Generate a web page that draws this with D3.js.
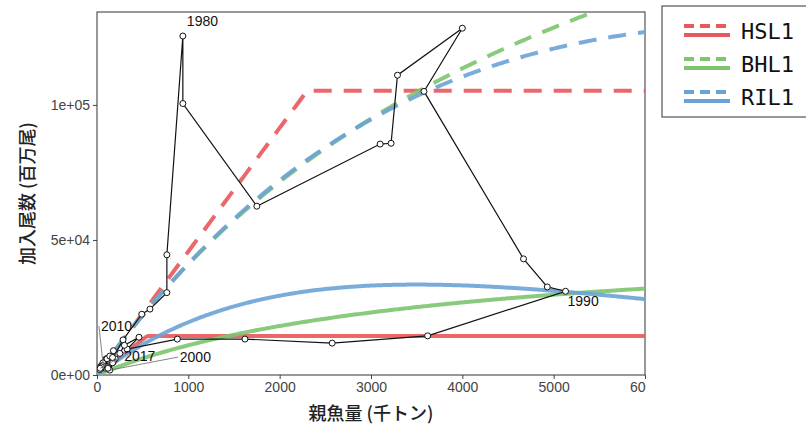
<!DOCTYPE html>
<html><head><meta charset="utf-8">
<script src="https://cdn.jsdelivr.net/npm/d3@7"></script>
<style>body{margin:0;background:#fff}</style>
</head><body>
<div id="chart"></div>
<script>
// observed stock-recruitment pairs (spawning biomass kt, recruits million)
var years = [1974,1975,1976,1977,1978,1979,1980,1981,1982,1983,1984,1985,1986,1987,1988,1989,1990,
             1991,1992,1993,1994,1995,1996,1997,1998,1999,2000,2001,2002,2003,2004,2005,2006,2007,2008,2009,2010,2011,2012,2013,2014,2015,2016,2017];
var ssb = [120,285,490,580,765,765,940,940,1750,3100,3220,3290,4000,3580,4670,4930,5130,
           3620,2575,1620,880,330,460,300,250,200,140,180,90,60,120,70,170,180,100,40,65,110,140,170,60,30,50,35];
var rec = [3000,13000,22500,24400,30500,44500,125500,100500,62500,85500,85800,111000,128400,105000,43000,32600,31000,
           14500,11800,13300,13300,9600,14000,11000,8000,6000,1800,5000,2500,3000,2500,4000,4500,9000,6000,3200,4500,6000,7000,6500,3500,2000,3000,2500];
var labelYears = [1980,1990,2000,2010,2017];

// fitted models
var models = ["HSL1","BHL1","RIL1"];
var colors = ["#e8585c","#7cc46e","#6ba3d6"];
var hslPast = {brk:2300, top:105200}, hslRecent = {brk:550, top:14450};
var bhPast = {a:48.3, b:1.755e-4}, bhRecent = {a:13.97, b:2.7e-4};
var riPast = {a:47.0, b:1.33e-4}, riRecent = {a:26.0, b:1/3500};

var W = 806, H = 428;
var margin = {top: 12, right: 161, bottom: 53, left: 97};
var width = W - margin.left - margin.right, height = H - margin.top - margin.bottom;

var svg = d3.select("#chart").append("svg").attr("width", W).attr("height", H)
    .style("font-family", "Liberation Sans, Arial, sans-serif");
svg.append("clipPath").attr("id","cl").append("rect").attr("width", 646).attr("height", H);
var root = svg.append("g").attr("clip-path","url(#cl)");
var g = root.append("g").attr("transform", "translate(" + margin.left + "," + margin.top + ")");
svg.append("clipPath").attr("id","pc").append("rect").attr("width", width).attr("height", height);

var x = d3.scaleLinear().domain([0, 6000]).range([0, width]);
var y = d3.scaleLinear().domain([0, 134400]).range([height, 0]);

var xa = g.append("g").attr("transform", "translate(0," + height + ")")
    .call(d3.axisBottom(x).tickValues([0,1000,2000,3000,4000,5000,6000]).tickFormat(d3.format("d")).tickSize(4));
var ya = g.append("g").call(d3.axisLeft(y).tickValues([0,50000,100000]).tickSize(4)
    .tickFormat(function(d){ return d === 0 ? "0e+00" : d === 50000 ? "5e+04" : "1e+05"; }));
[xa, ya].forEach(function(a){
  a.selectAll("text").style("font-size","14px").attr("fill","#444");
  a.selectAll("line").attr("stroke","#444");
  a.select(".domain").remove();
});
g.append("rect").attr("width", width).attr("height", height).attr("fill","none").attr("stroke","#333");

var xs = d3.range(0, 6001, 20);
function hs(p){ return function(s){ return s < p.brk ? p.top * s / p.brk : p.top; }; }
function bh(p){ return function(s){ return p.a * s / (1 + p.b * s); }; }
function ri(p){ return function(s){ return p.a * s * Math.exp(-p.b * s); }; }
var curves = [
  [hs(hslPast), hs(hslRecent)],
  [bh(bhPast), bh(bhRecent)],
  [ri(riPast), ri(riRecent)]
];
var line = d3.line().x(function(d){ return x(d[0]); }).y(function(d){ return y(d[1]); });
var pg = g.append("g").attr("clip-path","url(#pc)");
curves.forEach(function(c, i){
  [0,1].forEach(function(k){
    pg.append("path").datum(xs.map(function(s){ return [s, c[k](s)]; }))
      .attr("d", line).attr("fill","none").attr("stroke", colors[i])
      .attr("stroke-width", 4).attr("stroke-opacity", 0.9)
      .attr("stroke-dasharray", k === 0 ? "18,12" : null);
  });
});

var pts = years.map(function(yr, i){ return [ssb[i], rec[i], yr]; });
pg.append("path").datum(pts).attr("d", line).attr("fill","none").attr("stroke","#111").attr("stroke-width",1.2);
pg.selectAll("circle").data(pts).enter().append("circle")
  .attr("cx", function(d){ return x(d[0]); }).attr("cy", function(d){ return y(d[1]); })
  .attr("r", 3).attr("fill","#fff").attr("stroke","#111").attr("stroke-width",1);

// year labels
var lab = {1980:[4,-10,"start"], 1990:[2,15,"start"], 2000:[70,-8,"start"], 2010:[-2,-32,"start"], 2017:[24,-7,"start"]};
labelYears.forEach(function(yr){
  var d = pts[years.indexOf(yr)], o = lab[yr];
  var px = x(d[0]), py = y(d[1]);
  if (yr >= 2000) g.append("line").attr("x1", px).attr("y1", py).attr("x2", px + o[0] - 2).attr("y2", py + o[1] - 5)
      .attr("stroke","#666").attr("stroke-width",0.8);
  g.append("text").attr("x", px + o[0]).attr("y", py + o[1]).attr("text-anchor", o[2])
    .style("font-size","14px").attr("fill","#111").text(yr);
});

svg.append("text").attr("x", margin.left + width / 2).attr("y", 420).attr("text-anchor","middle")
  .style("font-family","Noto Sans CJK JP").style("font-size","18px").style("font-weight","500").attr("fill","#222").text("親魚量 (千トン)");
svg.append("text").attr("transform","translate(34," + (margin.top + height / 2) + ") rotate(-90)")
  .attr("text-anchor","middle").style("font-family","Noto Sans CJK JP").style("font-size","18px").style("font-weight","500").attr("fill","#222")
  .text("加入尾数 (百万尾)");

// legend
var lg = svg.append("g");
lg.append("rect").attr("x", 662).attr("y", 6).attr("width", 160).attr("height", 111).attr("fill","#fff").attr("stroke","#333");
models.forEach(function(m, i){
  var yy = 30 + i * 33;
  lg.append("line").attr("x1",684).attr("x2",730).attr("y1",yy-4).attr("y2",yy-4).attr("stroke",colors[i])
    .attr("stroke-width",4).attr("stroke-dasharray","10,6");
  lg.append("line").attr("x1",684).attr("x2",730).attr("y1",yy+5).attr("y2",yy+5).attr("stroke",colors[i]).attr("stroke-width",4);
  lg.append("text").attr("x",741).attr("y",yy+9).style("font-family","DejaVu Sans Mono").style("font-size","22px")
    .attr("fill","#111").text(m);
});
</script>
</body></html>
